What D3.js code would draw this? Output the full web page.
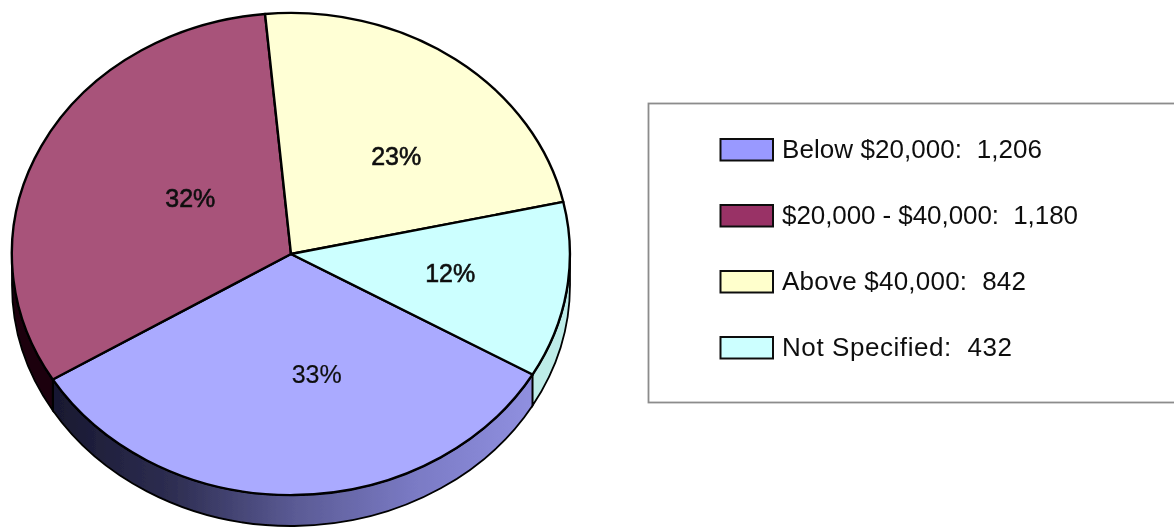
<!DOCTYPE html>
<html><head><meta charset="utf-8">
<script src="https://cdn.jsdelivr.net/npm/d3@7"></script>
<style>html,body{margin:0;background:#fff}svg{display:block}text{font-family:"Liberation Sans",Arial,sans-serif;fill:#111;white-space:pre}</style>
</head><body><svg id="c" width="1174" height="527"></svg>
<script>
const categories=["Below $20,000","$20,000 - $40,000","Above $40,000","Not Specified"];
const values=[1206,1180,842,432];
const valueLabels=["1,206","1,180","842","432"];
const percents=["33%","32%","23%","12%"];
const topColors=["#aaaaff","#a8537a","#ffffd5","#ccffff"];
const swatchColors=["#9999ff","#993366","#ffffcc","#ccffff"];
const wallColors=[null,"#1c0410",null,"#bdece8"];

const W=1174,H=527,cx=291,cy=254,rx=279,ry=241,depth=31;
const svg=d3.select("#c");
const defs=svg.append("defs");
const f=defs.append("filter").attr("id","soft").attr("filterUnits","userSpaceOnUse")
  .attr("x",0).attr("y",0).attr("width",W).attr("height",H);
f.append("feGaussianBlur").attr("stdDeviation",0.5);
const wallStops=[[0,"#181830"],[0.25,"#2e2e52"],[0.5,"#5a5a94"],[0.75,"#7a7ac4"],[1,"#9090e0"]];
const gu=defs.append("linearGradient").attr("id","wallU").attr("gradientUnits","userSpaceOnUse")
 .attr("x1",-0.85).attr("x2",0.87).attr("y1",0).attr("y2",0);
wallStops.forEach(([o,c])=>gu.append("stop").attr("offset",o).attr("stop-color",c));

const pie=d3.pie().sort(null).startAngle(Math.PI*2/3).endAngle(Math.PI*2/3+2*Math.PI);
const arcs=pie(values);
const root=svg.append("g").attr("filter","url(#soft)");

const lo=Math.PI/2, hi=3*Math.PI/2;
function wallPath(a0,a1){
  const p=d3.path(),d=depth/ry,t=-Math.PI/2;
  p.arc(0,d,1,a0+t,a1+t);
  p.lineTo(Math.cos(a1+t),Math.sin(a1+t));
  p.arc(0,0,1,a1+t,a0+t,true);
  p.closePath();
  return p.toString();
}
const walls=arcs.map((a,i)=>({i,a0:Math.max(a.startAngle,lo),a1:Math.min(a.endAngle,hi)}))
 .concat(arcs.map((a,i)=>({i,a0:Math.max(a.startAngle-2*Math.PI,lo),a1:Math.min(a.endAngle-2*Math.PI,hi)})))
 .filter(d=>d.a1>d.a0);
const pieG=root.append("g").attr("transform",`translate(${cx},${cy}) scale(${rx},${ry})`);
pieG.selectAll("path.w").data(walls).join("path").attr("class","w")
  .attr("d",d=>wallPath(d.a0,d.a1))
  .attr("fill",d=>wallColors[d.i]||"url(#wallU)")
  .attr("stroke","#000").attr("stroke-width",1.8).attr("vector-effect","non-scaling-stroke");

const arc=d3.arc().innerRadius(0).outerRadius(1);
pieG.selectAll("path.s").data(arcs).join("path").attr("class","s")
  .attr("d",arc).attr("fill",(d,i)=>topColors[i])
  .attr("stroke","#000").attr("stroke-width",2.4).attr("stroke-linejoin","round").attr("vector-effect","non-scaling-stroke");

// percent labels: mid-slice anchor plus a nudge
const labelR=[0.50,0.48,0.50,0.57];
const labelDx=[24,19,23,2], labelDy=[0,-4,-1,-2];
root.selectAll("text.p").data(arcs).join("text").attr("class","p")
  .attr("x",(d,i)=>cx+rx*labelR[i]*Math.sin((d.startAngle+d.endAngle)/2)+labelDx[i])
  .attr("y",(d,i)=>cy-ry*labelR[i]*Math.cos((d.startAngle+d.endAngle)/2)+9+labelDy[i])
  .attr("text-anchor","middle").attr("font-size",25)
  .attr("stroke","#111").attr("stroke-width",(d,i)=>i?0.6:0.2)
  .text((d,i)=>percents[i]);

// legend
const box=root.append("g");
box.append("rect").attr("x",648.5).attr("y",103.5).attr("width",W+20-648).attr("height",299)
  .attr("fill","#fff").attr("stroke","#8c8c8c").attr("stroke-width",1.8);
const ly=d3.scalePoint().domain(categories).range([149.5,347.5]);
const rowWidths=[260,296,244,230];
const items=box.selectAll("g.l").data(categories).join("g").attr("class","l")
  .attr("transform",d=>`translate(0,${ly(d)})`);
items.append("rect").attr("x",720.5).attr("y",-10.5).attr("width",52.5).attr("height",21.5)
  .attr("fill",(d,i)=>swatchColors[i]).attr("stroke","#111").attr("stroke-width",2);
items.append("text").attr("x",782).attr("y",8).attr("font-size",26)
  .attr("textLength",(d,i)=>rowWidths[i]).attr("lengthAdjust","spacing")
  .text((d,i)=>`${d}:  ${valueLabels[i]}`);
</script></body></html>
